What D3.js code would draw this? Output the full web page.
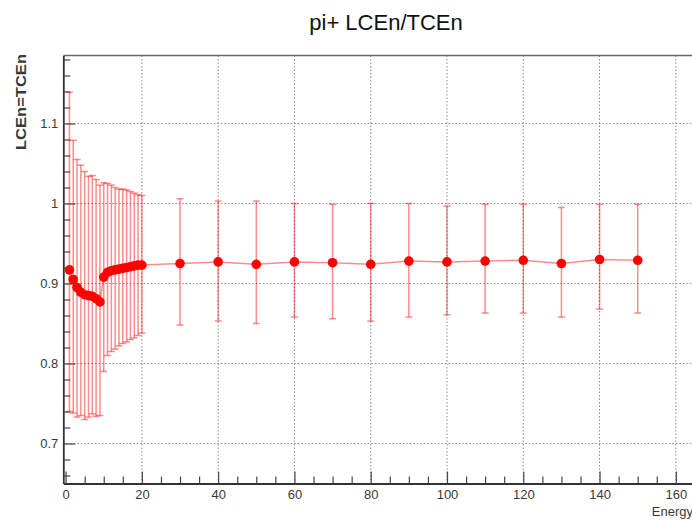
<!DOCTYPE html>
<html>
<head>
<meta charset="utf-8">
<script src="https://cdn.jsdelivr.net/npm/d3@7"></script>
<style>
  body { margin: 0; background: #fff; }
  text { font-family: "Liberation Sans", Arial, sans-serif; }
</style>
</head>
<body>
<div id="chart"></div>
<script>
// beam energy points
let energies = [1, 2, 3, 4, 5, 6, 7, 8, 9, 10, 11, 12, 13, 14, 15, 16, 17, 18, 19, 20,
    30, 40, 50, 60, 70, 80, 90, 100, 110, 120, 130, 140, 150];
// LCEn/TCEn mean
let ratios = [0.917, 0.905, 0.895, 0.889, 0.886, 0.885, 0.884, 0.881, 0.877,
    0.908, 0.914, 0.916, 0.917, 0.918, 0.919, 0.920, 0.921, 0.922, 0.923, 0.923,
    0.925, 0.927, 0.924, 0.927, 0.926, 0.924, 0.928, 0.927, 0.928, 0.929, 0.925, 0.930, 0.929];
// error bar ends
let errHigh = [1.139, 1.079, 1.055, 1.048, 1.040, 1.034, 1.035, 1.030, 1.023, 1.026,
    1.025, 1.023, 1.020, 1.018, 1.018, 1.017, 1.015, 1.013, 1.011, 1.010,
    1.006, 1.003, 1.003, 1.000, 0.999, 1.000, 1.000, 0.997, 0.999, 0.999, 0.995, 0.999, 0.999];
let errLow = [0.740, 0.738, 0.733, 0.735, 0.730, 0.733, 0.737, 0.734, 0.735,
    0.790, 0.810, 0.815, 0.818, 0.822, 0.825, 0.827, 0.830, 0.832, 0.835, 0.838,
    0.848, 0.853, 0.850, 0.858, 0.856, 0.853, 0.858, 0.861, 0.863, 0.863, 0.858, 0.868, 0.863];

let xMajor = [0, 20, 40, 60, 80, 100, 120, 140, 160];
let yMajor = [0.7, 0.8, 0.9, 1.0, 1.1];
let yLabels = ["0.7", "0.8", "0.9", "1", "1.1"];

let title = "pi+ LCEn/TCEn", xTitle = "Energy", yTitle = "LCEn=TCEn";

let pts = energies.map((e, i) => ({ e: e, v: ratios[i], hi: errHigh[i], lo: errLow[i] }));

let w = 692, h = 523;
let svg = d3.select("#chart").append("svg").attr("width", w).attr("height", h);
svg.append("rect").attr("width", w).attr("height", h).attr("fill", "#fff");

let x0 = 65.6, k = 3.814;
let xS = d3.scaleLinear().domain([-0.6, 170]).range([x0 - 0.6 * k, x0 + 170 * k]);
let yS = d3.scaleLinear().domain([0.65, 1.185]).range([483.5, 55.5]);
let pL = xS(-0.6), pR = xS(170), pT = yS(1.185), pB = yS(0.65);

let xMinor = d3.range(0, 171, 5).filter(v => v % 20 != 0);
let yMinor = d3.range(0.66, 1.185, 0.02).filter(v => yMajor.every(m => Math.abs(m - v) > 0.001));

// grid
let grid = svg.append("g").attr("stroke", "#8a8a8a").attr("stroke-width", 1).attr("stroke-dasharray", "1.5,2");
grid.selectAll(".gx").data(xMajor.slice(1)).enter().append("line")
    .attr("x1", d => xS(d)).attr("x2", d => xS(d)).attr("y1", pT).attr("y2", pB);
grid.selectAll(".gy").data(yMajor).enter().append("line")
    .attr("x1", pL).attr("x2", pR).attr("y1", d => yS(d)).attr("y2", d => yS(d));

// frame top
svg.append("line").attr("x1", pL).attr("x2", pR).attr("y1", pT).attr("y2", pT)
    .attr("stroke", "#666").attr("stroke-width", 1.5);

// axes
svg.append("g").attr("transform", `translate(0,${pB})`)
    .call(d3.axisBottom(xS).tickValues(xMajor).tickSize(-12).tickSizeOuter(0).tickPadding(6).tickFormat(d3.format("d")));
svg.append("g").attr("transform", `translate(0,${pB})`)
    .call(d3.axisBottom(xS).tickValues(xMinor).tickSize(-7).tickSizeOuter(0).tickFormat(""))
    .select(".domain").remove();
svg.append("g").attr("transform", `translate(${pL},0)`)
    .call(d3.axisLeft(yS).tickValues(yMajor).tickSize(-12).tickSizeOuter(0).tickPadding(5).tickFormat((d, i) => yLabels[i]));
svg.append("g").attr("transform", `translate(${pL},0)`)
    .call(d3.axisLeft(yS).tickValues(yMinor).tickSize(-7).tickSizeOuter(0).tickFormat(""))
    .select(".domain").remove();

svg.selectAll(".domain").attr("stroke", "#333").attr("stroke-width", 1.8);
svg.selectAll(".tick line").attr("stroke", "#444").attr("stroke-width", 1.2);
svg.selectAll(".tick text").attr("fill", "#3a3a3a").style("font-size", "13px")
    .style("font-family", "'Liberation Sans', Arial, sans-serif");

// data
let plot = svg.append("g");
plot.append("path").datum(pts)
    .attr("d", d3.line().x(d => xS(d.e)).y(d => yS(d.v)))
    .attr("fill", "none").attr("stroke", "red").attr("stroke-opacity", 0.45).attr("stroke-width", 1.5);

let eb = plot.selectAll(".eb").data(pts).enter().append("g")
    .attr("stroke", "red").attr("stroke-opacity", 0.45).attr("stroke-width", 1.5);
eb.append("line").attr("x1", d => xS(d.e)).attr("x2", d => xS(d.e))
    .attr("y1", d => yS(d.hi)).attr("y2", d => yS(d.lo));
eb.append("line").attr("x1", d => xS(d.e) - 3.5).attr("x2", d => xS(d.e) + 3.5)
    .attr("y1", d => yS(d.hi)).attr("y2", d => yS(d.hi));
eb.append("line").attr("x1", d => xS(d.e) - 3.5).attr("x2", d => xS(d.e) + 3.5)
    .attr("y1", d => yS(d.lo)).attr("y2", d => yS(d.lo));

plot.selectAll("circle").data(pts).enter().append("circle")
    .attr("cx", d => xS(d.e)).attr("cy", d => yS(d.v)).attr("r", 4.8).attr("fill", "red");

// titles
svg.append("text").attr("x", 386).attr("y", 30).attr("text-anchor", "middle")
    .style("font-size", "22px").attr("fill", "#111").text(title);
svg.append("text").attr("x", 693).attr("y", 516).attr("text-anchor", "end")
    .style("font-size", "13px").attr("fill", "#3a3a3a").text(xTitle);
svg.append("text").attr("transform", "translate(26,54) rotate(-90)").attr("text-anchor", "end")
    .attr("textLength", 96).attr("lengthAdjust", "spacingAndGlyphs")
    .style("font-size", "14px").style("font-weight", "bold").attr("fill", "#3a3a3a").text(yTitle);
</script>
</body>
</html>
